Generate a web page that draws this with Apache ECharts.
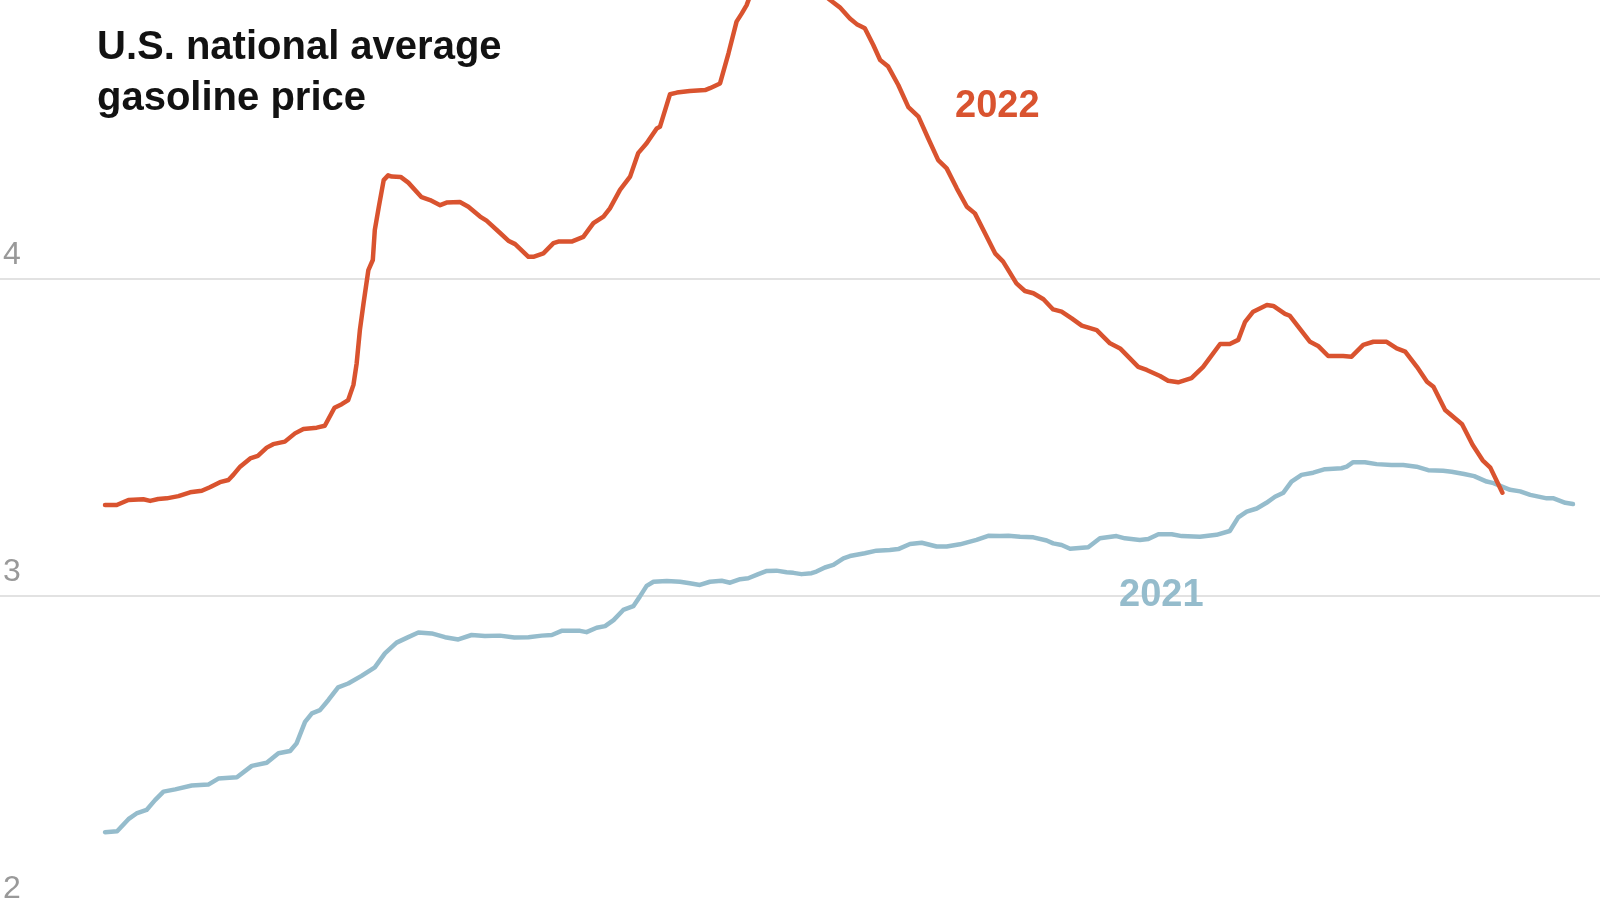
<!DOCTYPE html>
<html>
<head>
<meta charset="utf-8">
<script src="https://cdn.jsdelivr.net/npm/echarts@6/dist/echarts.min.js"></script>
<style>
html,body{margin:0;padding:0;background:#fff;overflow:hidden;width:1600px;height:900px;}
#chart{position:absolute;left:0;top:-38px;width:1600px;height:951px;}
</style>
</head>
<body>
<div id="chart"></div>
<script>
// Day of year (0 = Jan 1) and national average price
const days2021 = [0,3.0,5.8,7.8,10.3,12.4,14.5,17.4,21.5,25.6,28.1,32.7,36.4,40.1,43.0,45.9,47.5,49.6,51.3,53.3,55.4,57.8,60.3,63.6,66.9,69.4,72.3,74.8,77.7,81.0,84.3,87.6,90.9,94.2,97.9,101.5,105.0,108.3,110.8,113.2,117.8,119.4,121.9,124.0,126.1,128.5,131.0,132.6,134.3,136.0,139.3,142.6,145.0,147.5,150.0,152.9,155.0,157.5,159.5,162.0,164.1,166.5,169.0,170.7,172.7,175.2,176.4,178.5,180.6,183.1,184.7,188.4,191.3,194.6,196.7,199.6,202.5,206.2,208.7,212.0,216.1,219.0,221.9,224.0,226.9,230.2,233.5,235.1,237.2,239.3,243.8,246.7,250.8,252.9,256.6,258.7,261.2,264.5,267.0,271.5,275.6,278.9,281.0,283.1,285.6,288.0,290.1,292.2,294.2,296.7,299.6,302.5,306.6,307.9,309.5,312.4,315.3,319.0,321.9,325.2,328.1,331.8,333.9,337.0,339.5,342.6,344.3,348.4,350.9,353.4,357.5,359.2,362.1,364.0];
const prices2021 = [2.255,2.258,2.296,2.314,2.325,2.356,2.383,2.390,2.402,2.405,2.424,2.428,2.464,2.474,2.504,2.511,2.535,2.603,2.630,2.640,2.672,2.712,2.724,2.748,2.775,2.819,2.853,2.868,2.885,2.882,2.870,2.863,2.877,2.874,2.875,2.869,2.870,2.875,2.877,2.890,2.890,2.886,2.900,2.905,2.924,2.956,2.968,2.998,3.032,3.045,3.047,3.045,3.040,3.035,3.045,3.048,3.042,3.053,3.056,3.069,3.079,3.080,3.075,3.073,3.069,3.072,3.077,3.090,3.098,3.119,3.126,3.135,3.143,3.145,3.148,3.164,3.168,3.156,3.156,3.163,3.177,3.190,3.189,3.190,3.187,3.185,3.175,3.166,3.161,3.149,3.154,3.182,3.189,3.182,3.177,3.180,3.195,3.195,3.189,3.187,3.193,3.205,3.248,3.266,3.276,3.294,3.313,3.326,3.361,3.382,3.389,3.400,3.403,3.408,3.422,3.422,3.416,3.413,3.413,3.408,3.397,3.395,3.392,3.385,3.378,3.361,3.356,3.335,3.330,3.319,3.308,3.308,3.294,3.290];

const days2022 = [0,2.9,5.8,9.5,11.2,13.2,15.3,18.2,21.1,24.0,26.0,28.5,30.6,31.8,33.5,36.0,37.9,40.1,41.7,44.6,47.1,49.2,52.5,54.5,56.9,58.7,60.3,61.6,62.4,63.2,64.1,65.3,66.4,66.9,67.9,69.1,70.2,71.1,73.3,75.2,78.5,80.6,83.1,84.7,88.0,90.1,93.0,94.6,97.9,100.0,101.7,105.0,106.2,108.7,111.2,112.4,115.7,118.6,121.1,123.6,125.2,127.7,130.2,132.2,134.3,136.8,137.6,140.1,141.8,145.0,148.8,150.0,152.5,154.6,156.6,157.9,159.1,161,163,165,167,170,173,176,179.8,182.2,184.7,186.4,188.4,190.5,192.2,194.2,196.7,199.2,201.7,204.1,206.6,208.7,211.2,213.7,215.7,218.2,220.7,222.7,226.0,228.1,230.2,232.7,235.1,237.2,239.7,242.2,245.9,249.2,251.7,256.2,258.3,261.6,263.6,266.1,269.4,272.3,276.5,278.9,281.0,282.7,284.7,288.1,289.7,292.6,293.8,298.8,300.8,303.3,307.0,309.1,312.0,314.5,317.8,320.3,322.4,325.3,327.8,329.4,332.3,336.5,339.1,341.6,343.5,346.5];
const prices2022 = [3.287,3.287,3.303,3.305,3.300,3.306,3.308,3.315,3.327,3.332,3.343,3.359,3.366,3.382,3.408,3.434,3.442,3.468,3.479,3.487,3.513,3.527,3.531,3.537,3.594,3.605,3.618,3.666,3.734,3.839,3.923,4.028,4.060,4.155,4.228,4.312,4.327,4.323,4.322,4.304,4.258,4.249,4.233,4.241,4.243,4.228,4.197,4.184,4.146,4.121,4.110,4.070,4.070,4.081,4.113,4.118,4.118,4.133,4.176,4.197,4.223,4.281,4.323,4.397,4.428,4.475,4.480,4.583,4.588,4.593,4.596,4.602,4.617,4.712,4.812,4.838,4.864,4.93,4.98,5.01,5.00,4.97,4.95,4.92,4.880,4.857,4.822,4.804,4.791,4.738,4.691,4.670,4.612,4.542,4.512,4.444,4.375,4.349,4.286,4.228,4.207,4.144,4.081,4.055,3.986,3.962,3.955,3.936,3.904,3.897,3.876,3.853,3.839,3.797,3.781,3.723,3.713,3.694,3.679,3.674,3.687,3.723,3.795,3.795,3.808,3.865,3.897,3.918,3.915,3.890,3.884,3.802,3.789,3.757,3.757,3.755,3.792,3.802,3.802,3.781,3.771,3.723,3.676,3.660,3.587,3.542,3.477,3.428,3.405,3.326];

const yTicks = [2, 3, 4];
const titleText = 'U.S. national average\ngasoline price';
const seriesNames = ['2021', '2022'];

const red = '#d9532f';
const blue = '#95bccc';
const OFF = 38; // the chart canvas starts 38px above the page top

function pairs(d, v) { return d.map((x, i) => [x, v[i]]); }

const chart = echarts.init(document.getElementById('chart'));
chart.setOption({
  animation: false,
  backgroundColor: '#fff',
  title: {
    text: titleText,
    left: 97,
    top: 22 + OFF,
    padding: 0,
    textStyle: {
      fontFamily: 'Liberation Sans, Arial, sans-serif',
      fontSize: 40,
      fontWeight: 'bold',
      color: '#121212',
      lineHeight: 51
    }
  },
  grid: { left: 0, right: 0, top: 0, bottom: 0, containLabel: false },
  xAxis: {
    type: 'value',
    min: -26.04,
    max: 370.7,
    show: false
  },
  yAxis: {
    type: 'value',
    min: 2,
    max: 5,
    interval: 1,
    axisLine: { show: false },
    axisTick: { show: false },
    splitLine: {
      show: true,
      showMinLine: false,
      showMaxLine: false,
      lineStyle: { color: '#e2e2e2', width: 2 }
    },
    axisLabel: {
      inside: true,
      margin: 3,
      verticalAlign: 'bottom',
      padding: [0, 0, 8, 0],
      fontFamily: 'Liberation Sans, Arial, sans-serif',
      fontSize: 32,
      color: '#999',
      formatter: v => (yTicks.indexOf(v) >= 0 ? String(v) : '')
    }
  },
  graphic: [
    { type: 'text', left: 955, top: 88 + OFF, z: 10,
      style: { text: seriesNames[1], fill: red, font: 'bold 38px "Liberation Sans", Arial, sans-serif' } },
    { type: 'text', left: 1119, top: 577 + OFF, z: 10,
      style: { text: seriesNames[0], fill: blue, font: 'bold 38px "Liberation Sans", Arial, sans-serif' } }
  ],
  series: [
    {
      name: seriesNames[0],
      type: 'line',
      data: pairs(days2021, prices2021),
      showSymbol: false,
      symbol: 'none',
      lineStyle: { color: blue, width: 4.5, join: 'round', cap: 'round' },
      z: 2
    },
    {
      name: seriesNames[1],
      type: 'line',
      data: pairs(days2022, prices2022),
      showSymbol: false,
      symbol: 'none',
      clip: true,
      lineStyle: { color: red, width: 4.5, join: 'round', cap: 'round' },
      z: 3
    }
  ]
});
</script>
</body>
</html>
